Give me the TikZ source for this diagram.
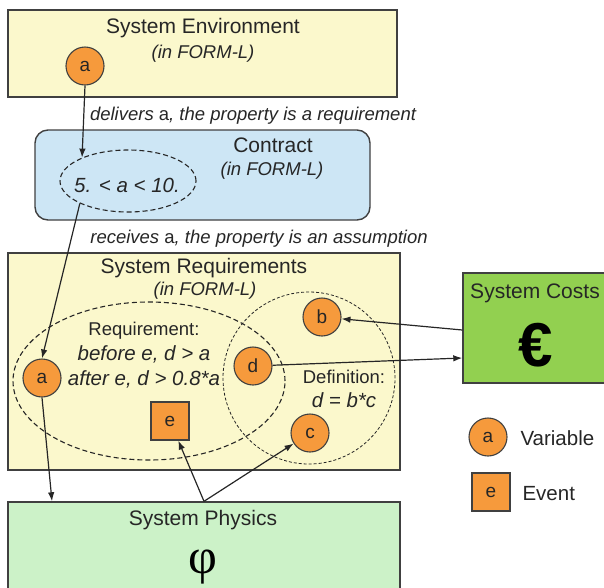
\documentclass[tikz,border=0pt]{standalone}
\usepackage{fontspec}
\setmainfont{Liberation Sans}
\newfontfamily\phifont{Liberation Serif}
\usetikzlibrary{shapes.geometric,arrows.meta}
\definecolor{ink}{HTML}{262626}
\definecolor{edge}{HTML}{404040}
\definecolor{paleyellow}{HTML}{FBF8CC}
\definecolor{paleblue}{HTML}{CDE6F5}
\definecolor{costgreen}{HTML}{92D050}
\definecolor{palegreen}{HTML}{CCF2C8}
\definecolor{varorange}{HTML}{F69A3C}
\tikzset{
  panel/.style={draw=edge, line width=1.4pt, inner sep=0pt},
  title/.style={anchor=base, text=ink, font=\fontsize{21}{25}\selectfont},
  sub/.style={anchor=base, text=ink, font=\fontsize{18.5}{22}\selectfont\itshape},
  plain/.style={anchor=base, text=ink, font=\fontsize{18.5}{22}\selectfont},
  formula/.style={anchor=base, text=ink, font=\fontsize{20.5}{24}\selectfont\itshape},
  var/.style={circle, draw=edge, line width=1.1pt, fill=varorange, minimum size=38pt,
    inner sep=0pt, text=ink, font=\fontsize{19}{22}\selectfont},
  evt/.style={rectangle, draw=edge, line width=1.1pt, fill=varorange, minimum size=38pt,
    inner sep=0pt, text=ink, font=\fontsize{19}{22}\selectfont},
  link/.style={draw=ink, line width=1.2pt, -{Latex[length=9pt,width=6.5pt]}},
  scopeline/.style={draw=ink, line width=1.1pt, dash pattern=on 5pt off 3pt},
  defline/.style={draw=ink, line width=0.8pt, dash pattern=on 3pt off 2pt},
}
\begin{document}
\begin{tikzpicture}[x=1pt,y=-1pt]
\useasboundingbox (0,0) rectangle (604,587);

% panels
\node[panel, fill=paleyellow, minimum width=389pt, minimum height=87pt] (env) at (202.5,53.5) {};
\node[panel, fill=paleblue, rounded corners=13pt, minimum width=335pt, minimum height=90pt] (contract) at (202.5,175) {};
\node[panel, fill=paleyellow, minimum width=392pt, minimum height=217pt] (req) at (204,361.5) {};
\node[panel, fill=costgreen, minimum width=146pt, minimum height=110pt] (costs) at (536,328) {};
\node[panel, fill=palegreen, minimum width=392pt, minimum height=96pt] (phys) at (204,550) {};

% system environment
\node[title] (envT) at (203,33) {System Environment};
\node[sub] (envS) at (203,58) {(in FORM-L)};
\node[var] (envA) at (85,66) {a};

% contract
\node[sub] (lblDeliver) at (253,120) {delivers \textup{a}, the property is a requirement};
\node[title] (conT) at (273,152) {Contract};
\node[sub] (conS) at (272,175) {(in FORM-L)};
\node[ellipse, scopeline, minimum width=136pt, minimum height=62pt, inner sep=0pt] (cell) at (128,181) {};
\node[formula] (cellT) at (127,192) {5. < a < 10.};
\node[sub] (lblReceive) at (259,243) {receives \textup{a}, the property is an assumption};

% system requirements
\node[title] (reqT) at (204,273) {System Requirements};
\node[sub] (reqS) at (205,295) {(in FORM-L)};
\node[ellipse, scopeline, minimum width=272pt, minimum height=158pt, inner sep=0pt] (reqEll) at (149,381) {};
\node[ellipse, defline, minimum width=172pt, minimum height=172pt, inner sep=0pt] (defEll) at (309,378) {};
\node[plain] (reqL1) at (144,335) {Requirement:};
\node[formula] (reqL2) at (144,360) {before e, d > a};
\node[formula] (reqL3) at (144,385) {after e, d > 0.8*a};
\node[plain] (defL1) at (344,383) {Definition:};
\node[formula] (defL2) at (344,407) {d = b*c};
\node[var] (reqA) at (42,378) {a};
\node[var] (b) at (322,317) {b};
\node[var] (d) at (253,366) {d};
\node[var] (c) at (310,433) {c};
\node[evt] (e) at (170,421) {e};

% system costs
\node[title] (costT) at (535,298) {System Costs};
\node[anchor=base, text=black, font=\fontsize{62}{70}\selectfont\bfseries] (euro) at (536,366) {€};

% system physics
\node[title] (physT) at (203,525) {System Physics};
\node[anchor=base, text=black, font=\fontsize{50}{56}\selectfont\phifont] (phi) at (203,573) {φ};

% legend
\node[var] (legA) at (488,437) {a};
\node[plain, anchor=base west, font=\fontsize{20.5}{24}\selectfont] (legAT) at (517,445) {Variable};
\node[evt] (legE) at (491,492) {e};
\node[plain, anchor=base west, font=\fontsize{20.5}{24}\selectfont] (legET) at (519,500) {Event};

% connectors
\draw[link] (envA.south) -- (cell.153);
\draw[link] (cell.205) -- (reqA.north);
\draw[link] (reqA.south) -- ([xshift=-152pt]phys.north);
\draw[link] (phys.north) -- (e);
\draw[link] (phys.north) -- (c);
\draw[link] ([yshift=-2pt]costs.west) -- (b);
\draw[link] (d) -- ([yshift=-30pt]costs.west);
\end{tikzpicture}
\end{document}
